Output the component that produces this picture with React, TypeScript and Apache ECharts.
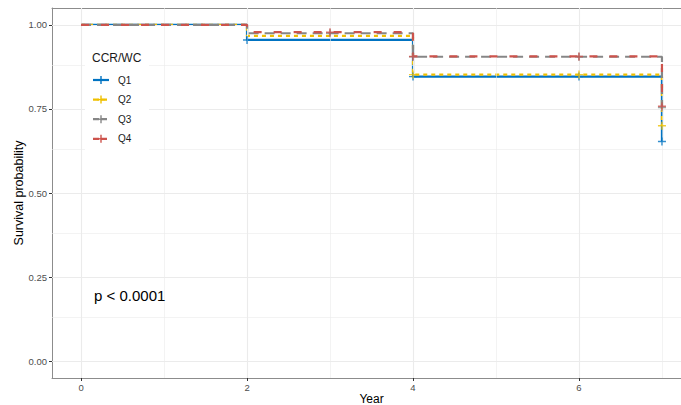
import React, { useEffect, useRef } from "react";
import * as echarts from "echarts";

// ---- data ----
const groupNames = ["Q1", "Q2", "Q3", "Q4"];
const eventYears = [0, 2, 4, 7];
const q1Surv = [1, 0.955, 0.846, 0.653];
const q2Surv = [1, 0.967, 0.852, 0.7];
const q3Surv = [1, 0.975, 0.905, 0.754];
const q4Surv = [1, 0.978, 0.906, 0.758];
const q1Censor = [2, 4, 6, 7];
const q2Censor = [4, 6, 7];
const q3Censor = [3, 4, 6, 7];
const q4Censor = [3, 4, 6, 7];
const xMajorTicks = [0, 2, 4, 6];
const xMinorTicks = [1, 3, 5, 7];
const yMajorTicks = [0, 0.25, 0.5, 0.75, 1];
const yMinorTicks = [0.125, 0.375, 0.625, 0.875];
const pLabel = "p < 0.0001";
const legendTitle = "CCR/WC";

// ---- styles ----
const colors = ["#0073C2", "#EFC000", "#868686", "#CD534C"];
const dashes: any[] = ["solid", [4, 4], [10, 6], [8, 12]];
const FONT = "Liberation Sans, Arial, sans-serif";
const PLUS =
  "path://M-0.7,-4H0.7V-0.7H4V0.7H0.7V4H-0.7V0.7H-4V-0.7H-0.7Z";

const survList = [q1Surv, q2Surv, q3Surv, q4Surv];
const censorList = [q1Censor, q2Censor, q3Censor, q4Censor];

function survAt(surv: number[], t: number) {
  let v = surv[0];
  for (let i = 0; i < eventYears.length; i++) {
    if (eventYears[i] <= t) v = surv[i];
  }
  return v;
}

export default function App() {
  const ref = useRef<HTMLDivElement>(null);
  useEffect(() => {
    document.body.style.margin = "0";
    document.body.style.overflow = "hidden";
    if (!ref.current) return;
    const chart = echarts.init(ref.current, undefined, { renderer: "svg" });

    const lineSeries = groupNames.map((name, gi) => ({
      name,
      type: "line",
      step: "end",
      data: eventYears.map((x, i) => [x, survList[gi][i]]),
      showSymbol: false,
      symbol: "none",
      z: 3 + gi,
      lineStyle: { color: colors[gi], width: 2.2, type: dashes[gi] },
      silent: true,
    }));
    const censorSeries = groupNames.map((name, gi) => ({
      name: name + " censor",
      type: "scatter",
      data: censorList[gi].map((t) => [t, survAt(survList[gi], t)]),
      symbol: PLUS,
      symbolSize: 8,
      z: 10 + gi,
      itemStyle: { color: colors[gi] },
      silent: true,
    }));

    const gridLineStyle = (w: number) => ({
      color: "#ebebeb",
      width: w,
      type: "solid" as const,
    });
    const gridSeries = {
      name: "grid",
      type: "line",
      data: [],
      z: 1,
      silent: true,
      markLine: {
        silent: true,
        symbol: ["none", "none"],
        label: { show: false },
        animation: false,
        data: [
          ...xMajorTicks.map((v) => ({ xAxis: v, lineStyle: gridLineStyle(1.1) })),
          ...xMinorTicks.map((v) => ({ xAxis: v, lineStyle: gridLineStyle(0.6) })),
          ...yMajorTicks.map((v) => ({ yAxis: v, lineStyle: gridLineStyle(1.1) })),
          ...yMinorTicks.map((v) => ({ yAxis: v, lineStyle: gridLineStyle(0.6) })),
        ],
      },
    };

    const legendTop = 80;
    const legendStep = 19.6;
    const legendGraphics: any[] = [
      {
        type: "rect",
        shape: { x: 85, y: 43, width: 64, height: 107 },
        style: { fill: "#ffffff" },
        z: 100,
        silent: true,
      },
      {
        type: "text",
        x: 92,
        y: 58,
        z: 101,
        style: {
          text: legendTitle,
          font: `12px ${FONT}`,
          fill: "#1a1a1a",
          verticalAlign: "middle",
        },
      },
    ];
    groupNames.forEach((name, gi) => {
      const y = legendTop + gi * legendStep;
      legendGraphics.push({
        type: "line",
        shape: { x1: 93, y1: y, x2: 109, y2: y },
        style: {
          stroke: colors[gi],
          lineWidth: 2.2,
          lineDash: Array.isArray(dashes[gi]) ? [6, 2] : null,
        },
        z: 101,
      });
      legendGraphics.push({
        type: "rect",
        shape: { x: 100.3, y: y - 4, width: 1.4, height: 8 },
        style: { fill: colors[gi] },
        z: 102,
      });
      legendGraphics.push({
        type: "rect",
        shape: { x: 97, y: y - 0.7, width: 8, height: 1.4 },
        style: { fill: colors[gi] },
        z: 102,
      });
      legendGraphics.push({
        type: "text",
        x: 118,
        y,
        z: 101,
        style: {
          text: name,
          font: `10px ${FONT}`,
          fill: "#1a1a1a",
          verticalAlign: "middle",
        },
      });
    });
    legendGraphics.push({
      type: "text",
      x: 94,
      y: 295,
      z: 101,
      style: {
        text: pLabel,
        font: `15px ${FONT}`,
        fill: "#000000",
        verticalAlign: "middle",
      },
    });

    const borderLine = {
      show: true,
      onZero: false,
      lineStyle: { color: "#8c8c8c", width: 1 },
    };

    chart.setOption({
      animation: false,
      grid: {
        left: 52,
        top: 8,
        width: 639,
        height: 370,
        show: false,
        containLabel: false,
        outerBoundsMode: "none",
      },
      xAxis: [
        {
          type: "value",
          min: -0.35,
          max: 7.35,
          name: "Year",
          nameLocation: "middle",
          nameGap: 15,
          nameMoveOverlap: false,
          nameTextStyle: { fontFamily: FONT, fontSize: 12, color: "#000" },
          axisLine: borderLine,
          axisTick: {
            show: true,
            length: 3,
            customValues: xMajorTicks,
            lineStyle: { color: "#333" },
          },
          axisLabel: {
            customValues: xMajorTicks,
            margin: 4,
            fontFamily: FONT,
            fontSize: 9.5,
            color: "#4d4d4d",
          },
          splitLine: { show: false },
        },
        {
          type: "value",
          position: "top",
          min: -0.35,
          max: 7.35,
          axisLine: borderLine,
          axisTick: { show: false },
          axisLabel: { show: false },
          splitLine: { show: false },
        },
      ],
      yAxis: {
        type: "value",
        min: -0.05,
        max: 1.05,
        name: "Survival probability",
        nameLocation: "middle",
        nameGap: 27,
        nameMoveOverlap: false,
        nameTextStyle: { fontFamily: FONT, fontSize: 12.5, color: "#000" },
        axisLine: borderLine,
        axisTick: {
          show: true,
          length: 3,
          customValues: yMajorTicks,
          lineStyle: { color: "#333" },
        },
        axisLabel: {
          customValues: yMajorTicks,
          margin: 5,
          fontFamily: FONT,
          fontSize: 9.5,
          color: "#4d4d4d",
          formatter: (v: number) => v.toFixed(2),
        },
        splitLine: { show: false },
      },
      graphic: legendGraphics,
      series: [gridSeries, ...lineSeries, ...censorSeries],
    });
    return () => chart.dispose();
  }, []);
  return (
    <div
      ref={ref}
      style={{ position: "absolute", left: 0, top: 0, width: 681, height: 405 }}
    />
  );
}
